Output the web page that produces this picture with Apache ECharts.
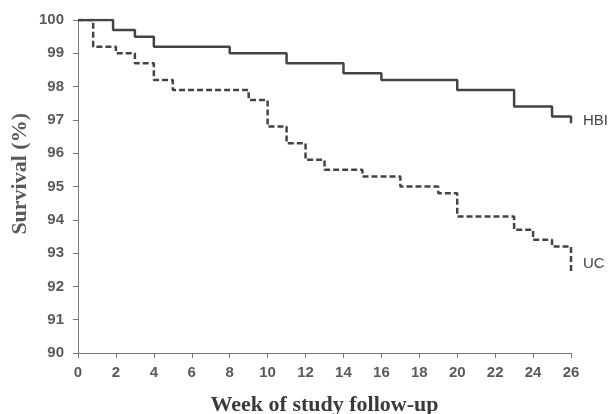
<!DOCTYPE html>
<html>
<head>
<meta charset="utf-8">
<script src="https://cdn.jsdelivr.net/npm/echarts@6/dist/echarts.min.js"></script>
<style>html,body{margin:0;padding:0;background:#fff}#c{width:612px;height:414px}</style>
</head>
<body>
<div id="c"></div>
<script>
const xTicks = [0,2,4,6,8,10,12,14,16,18,20,22,24,26];
const yTicks = [90,91,92,93,94,95,96,97,98,99,100];
const hbiWeeks = [0, 1.85, 3, 4, 8, 11, 14, 16, 20, 23, 25, 26];
const hbiSurv  = [100, 99.7, 99.5, 99.2, 99.0, 98.7, 98.4, 98.2, 97.9, 97.4, 97.1, 96.9];
const ucWeeks = [0, 0.8, 2, 3, 4, 5, 9, 10, 11, 12, 13, 15, 17, 19, 20, 23, 24, 25, 26];
const ucSurv  = [100, 99.2, 99.0, 98.7, 98.2, 97.9, 97.6, 96.8, 96.3, 95.8, 95.5, 95.3, 95.0, 94.8, 94.1, 93.7, 93.4, 93.2, 92.4];

const pair = (xs, ys) => xs.map((x, i) => [x, ys[i]]);
const chart = echarts.init(document.getElementById('c'));
const tickFont = {color:'#5a5a5a', fontSize:15, fontWeight:'bold', fontFamily:'Liberation Sans, Arial, sans-serif'};
chart.setOption({
  animation:false,
  grid:{left:78, right:41, top:20, bottom:61, containLabel:false, outerBoundsMode:'none'},
  xAxis:{type:'value', min:0, max:26, interval:2,
    name:'Week of study follow-up', nameLocation:'middle', nameGap:41,
    nameTextStyle:{color:'#3a3a3a', fontSize:22, fontWeight:'bold', fontFamily:'Liberation Serif, Times New Roman, serif'},
    axisLine:{lineStyle:{color:'#777', width:1}},
    axisTick:{show:true, length:5, lineStyle:{color:'#777'}},
    axisLabel:Object.assign({margin:12}, tickFont),
    splitLine:{show:false}},
  yAxis:{type:'value', min:90, max:100, interval:1,
    axisLine:{show:true, lineStyle:{color:'#777', width:1}},
    axisTick:{show:true, length:5, lineStyle:{color:'#777'}},
    axisLabel:Object.assign({margin:14}, tickFont),
    splitLine:{show:false}},
  graphic:[{type:'text', left:9, top:113, rotation:Math.PI/2,
    style:{text:'Survival (%)', fill:'#5a5a5a', font:'bold 22px "Liberation Serif", serif'}}],
  series:[
    {name:'HBI', type:'line', step:'end', data:pair(hbiWeeks, hbiSurv), symbol:'none',
     lineStyle:{color:'#444', width:2.5},
     endLabel:{show:true, formatter:'{a}', color:'#444', fontSize:15, fontFamily:'Liberation Sans, Arial, sans-serif', distance:12, offset:[0,-2]}},
    {name:'UC', type:'line', step:'end', data:pair(ucWeeks, ucSurv), symbol:'none',
     lineStyle:{color:'#444', width:2.5, type:[6,3]},
     endLabel:{show:true, formatter:'{a}', color:'#444', fontSize:15, fontFamily:'Liberation Sans, Arial, sans-serif', distance:12, offset:[0,-9]}}
  ]
});
</script>
</body>
</html>
